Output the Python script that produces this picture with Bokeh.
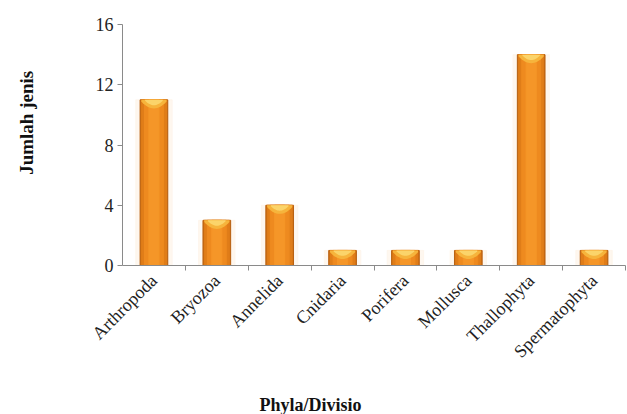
from bokeh.plotting import figure
from bokeh.layouts import row, column
from bokeh.models import FixedTicker, Range1d
from bokeh.core.properties import value
from bokeh.embed import file_html
from bokeh.resources import INLINE
import math

# Number of species recorded per phylum / division
categories = ["Arthropoda", "Bryozoa", "Annelida", "Cnidaria", "Porifera",
              "Mollusca", "Thallophyta", "Spermatophyta"]
counts = [11, 3, 4, 1, 1, 1, 14, 1]
y_ticks = [0, 4, 8, 12, 16]
y_title = "Jumlah jenis"
x_title = "Phyla/Divisio"

SERIF = "Liberation Serif"

centers = [i + 0.5 for i in range(len(categories))]


def text_strip(w, h):
    """A bare figure used only to carry an axis title."""
    f = figure(width=w, height=h, x_range=Range1d(0, w), y_range=Range1d(0, h),
               output_backend="svg", toolbar_location=None, min_border=0)
    f.axis.visible = False
    f.grid.visible = False
    f.outline_line_color = None
    return f


# vertical axis title, left of the chart
side = text_strip(50, 392)
side.text(x=[26], y=[232], text=[y_title], angle=math.pi / 2,
          text_font=value(SERIF), text_font_style="bold",
          text_font_size="19px", text_color="#111111",
          text_align="center", text_baseline="middle")

# horizontal axis title, below the chart
bottom = text_strip(627, 22)
bottom.text(x=[310], y=[10], text=[x_title],
            text_font=value(SERIF), text_font_style="bold",
            text_font_size="18px", text_color="#111111",
            text_align="center", text_baseline="middle")

p = figure(width=577, height=392, x_range=Range1d(0, len(categories)),
           y_range=Range1d(0, 16), output_backend="svg", toolbar_location=None,
           min_border_left=72, min_border_right=2, min_border_top=24,
           min_border_bottom=127)
p.outline_line_color = None
p.xgrid.grid_line_color = None
p.ygrid.grid_line_color = None
p.background_fill_color = "white"
p.border_fill_color = "white"

# soft halo around each bar
p.vbar(x=centers, top=counts, width=0.58, color="#fdf3e8", alpha=0.7)

# bar body: layered widths give a rounded, shaded look
p.vbar(x=centers, top=counts, width=0.44, color="#b9600f")
p.vbar(x=centers, top=counts, width=0.40, color="#e07d18")
p.vbar(x=centers, top=counts, width=0.30, color="#ee8a1f")
p.vbar(x=centers, top=counts, width=0.16, color="#f59628")

# light cap at the top of each bar, curving down towards the middle
def cap(xc, v, half, edge, depth):
    xs = [xc - half, xc + half]
    ys = [v, v]
    n = 16
    for k in range(n + 1):
        t = 1 - 2 * k / n
        xs.append(xc + half * t)
        ys.append(v - edge - depth * (1 - t * t))
    return xs, ys

outer = [cap(c, v, 0.20, 0.12, 0.45) for c, v in zip(centers, counts)]
inner = [cap(c, v, 0.14, 0.06, 0.30) for c, v in zip(centers, counts)]
p.patches(xs=[o[0] for o in outer], ys=[o[1] for o in outer],
          color="#f6b43c", line_color=None)
p.patches(xs=[o[0] for o in inner], ys=[o[1] for o in inner],
          color="#fbd46a", line_color=None)

# y axis
p.yaxis.ticker = FixedTicker(ticks=y_ticks)
p.yaxis.axis_line_color = "#8a8a8a"
p.yaxis.major_tick_line_color = "#8a8a8a"
p.yaxis.major_tick_in = 0
p.yaxis.major_tick_out = 5
p.yaxis.minor_tick_line_color = None
p.yaxis.major_label_text_font = SERIF
p.yaxis.major_label_text_font_size = "18px"
p.yaxis.major_label_text_color = "#222222"
p.yaxis.major_label_standoff = 4

# x axis: labels at bar centres, tick marks between categories
p.xaxis.ticker = FixedTicker(ticks=centers,
                             minor_ticks=list(range(1, len(categories) + 1)))
p.xaxis.major_label_overrides = {c: n for c, n in zip(centers, categories)}
p.xaxis.axis_line_color = "#8a8a8a"
p.xaxis.major_tick_line_color = None
p.xaxis.minor_tick_line_color = "#8a8a8a"
p.xaxis.minor_tick_in = 0
p.xaxis.minor_tick_out = 5
p.xaxis.major_label_orientation = math.pi / 4
p.xaxis.major_label_text_font = SERIF
p.xaxis.major_label_text_font_size = "18px"
p.xaxis.major_label_text_color = "#222222"
p.xaxis.major_label_standoff = 6

layout = column(row(side, p, spacing=0), bottom, spacing=0)
open("out.html", "w").write(file_html(layout, INLINE))
